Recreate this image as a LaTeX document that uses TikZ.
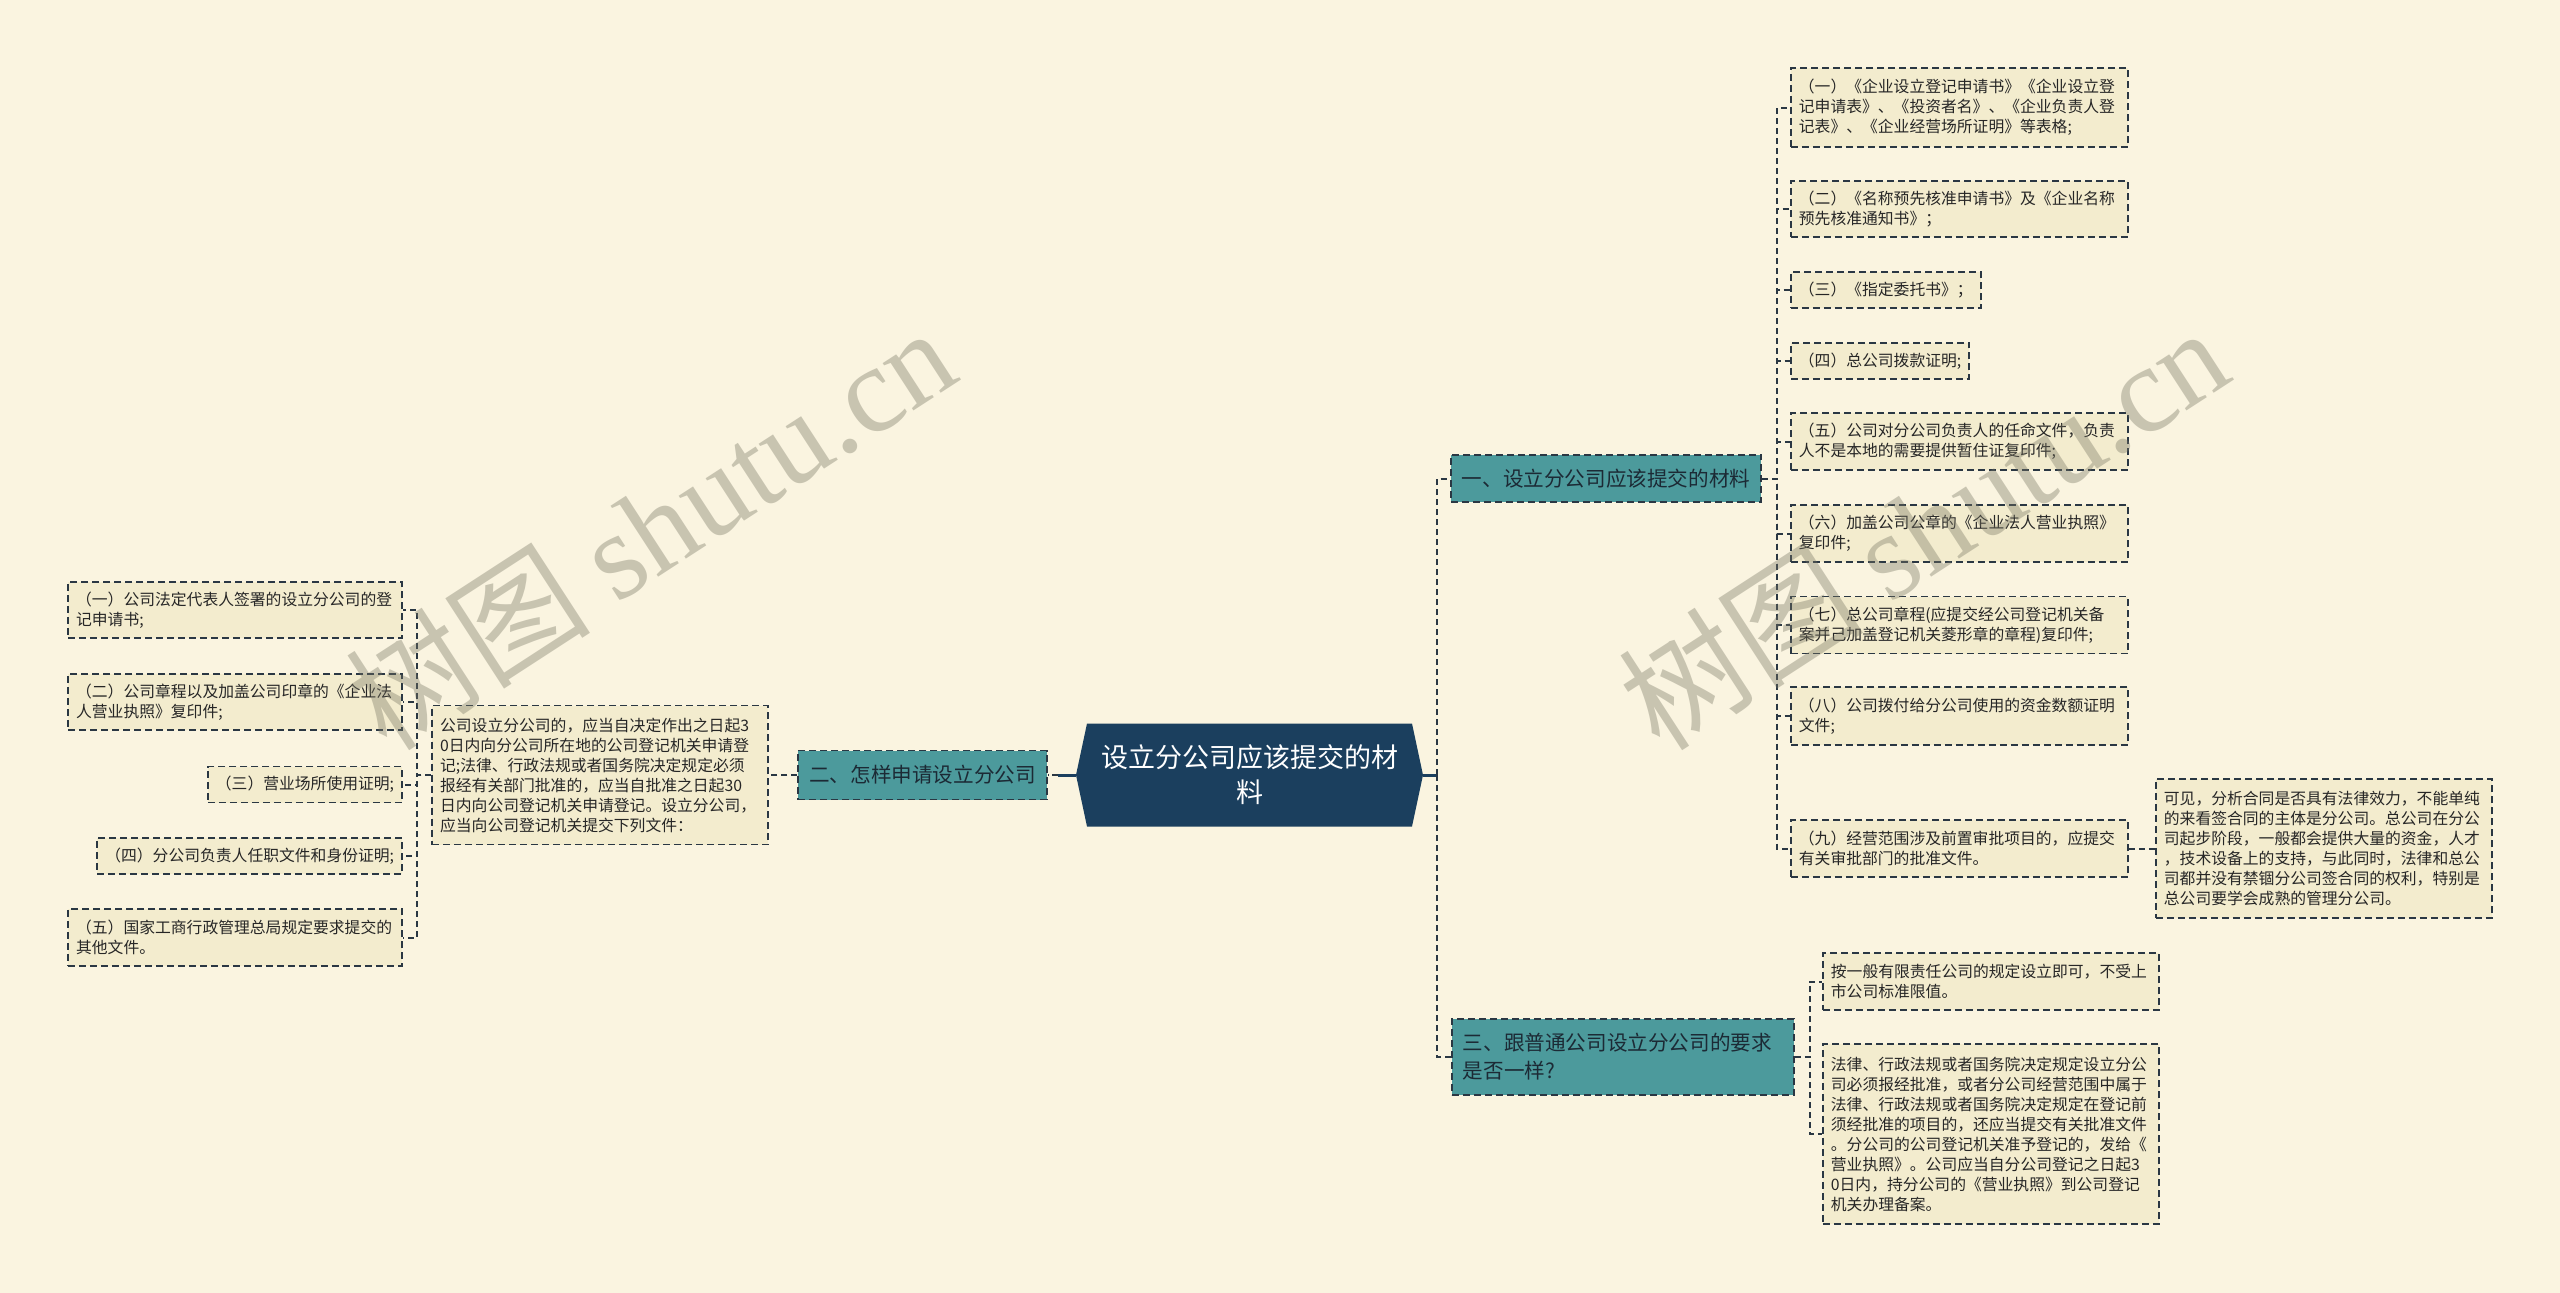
\documentclass[tikz,border=0pt]{standalone}
\usepackage{fontspec}
\setmainfont{Noto Sans CJK SC}
\newfontfamily\wmlatin{Liberation Serif}
\newfontfamily\wmcjk{Noto Sans CJK SC}
\usetikzlibrary{calc}
\definecolor{bgC}{HTML}{FAF4E0}
\definecolor{leafC}{HTML}{F3ECCE}
\definecolor{lineC}{HTML}{2A3743}
\definecolor{tealC}{HTML}{4C9A9C}
\definecolor{navyC}{HTML}{1B3F5E}
\definecolor{txtC}{HTML}{262626}
\definecolor{btxtC}{HTML}{1C2A35}
\definecolor{wmC}{RGB}{120,118,100}
\tikzset{
  leaf/.style={draw=lineC, line width=1.8pt, dash pattern=on 7pt off 4pt, fill=leafC, text=txtC,
    font=\fontsize{15.8pt}{20pt}\selectfont, align=left, inner xsep=8pt, inner ysep=4pt},
  branch/.style={draw=lineC, line width=1.8pt, dash pattern=on 7pt off 4pt, fill=tealC, text=btxtC,
    font=\fontsize{20.6pt}{28pt}\selectfont, align=left, inner xsep=11pt, inner ysep=4pt},
  conn/.style={draw=lineC, line width=2pt, dash pattern=on 6pt off 4pt},
  solidconn/.style={draw=navyC, line width=3pt},
  wmark/.style={text=wmC, opacity=0.38, rotate=33, inner sep=0pt}
}
\begin{document}
\begin{tikzpicture}[x=1pt,y=-1pt]
\fill[bgC] (0,0) rectangle (2560,1293);
\useasboundingbox (0,0) rectangle (2560,1293);

% centre hexagon
\coordinate (cc) at (1249.5,775);
\fill[navyC] ($(cc)+(-173.5,0)$) -- ($(cc)+(-162.5,-51.5)$) -- ($(cc)+(162.5,-51.5)$)
  -- ($(cc)+(173.5,0)$) -- ($(cc)+(162.5,51.5)$) -- ($(cc)+(-162.5,51.5)$) -- cycle;
\node[minimum width=347pt, minimum height=103pt, inner sep=0pt, text=white, align=center,
  font=\fontsize{27pt}{35pt}\selectfont] (center) at (cc) {设立分公司应该提交的材\\料};

% branches
\node[branch, minimum height=47pt] (B1) at (1606,478.5) {一、设立分公司应该提交的材料};
\node[branch, minimum height=49pt] (B2) at (922.5,775) {二、怎样申请设立分公司};
\node[branch, anchor=west, text width=320pt, minimum height=76pt] (B3) at (1451,1057) {三、跟普通公司设立分公司的要求\\是否一样?};

% branch 2 description and children
\node[leaf, anchor=east, text width=320pt, minimum height=139pt] (D) at (769,775) {公司设立分公司的，应当自决定作出之日起3\\0日内向分公司所在地的公司登记机关申请登\\记;法律、行政法规或者国务院决定规定必须\\报经有关部门批准的，应当自批准之日起30\\日内向公司登记机关申请登记。设立分公司，\\应当向公司登记机关提交下列文件：};

\node[leaf, anchor=east, text width=318pt, minimum height=56pt] (L1) at (403,610) {（一）公司法定代表人签署的设立分公司的登\\记申请书;};
\node[leaf, anchor=east, text width=318pt, minimum height=56pt] (L2) at (403,702) {（二）公司章程以及加盖公司印章的《企业法\\人营业执照》复印件;};
\node[leaf, anchor=east, minimum height=36pt] (L3) at (403,784.5) {（三）营业场所使用证明;};
\node[leaf, anchor=east, minimum height=36pt] (L4) at (403,856) {（四）分公司负责人任职文件和身份证明;};
\node[leaf, anchor=east, text width=318pt, minimum height=57pt] (L5) at (403,937.5) {（五）国家工商行政管理总局规定要求提交的\\其他文件。};

% branch 1 children
\node[leaf, anchor=west, text width=321pt, minimum height=79pt] (R1) at (1790,107.5) {（一）《企业设立登记申请书》《企业设立登\\记申请表》、《投资者名》、《企业负责人登\\记表》、《企业经营场所证明》等表格;};
\node[leaf, anchor=west, text width=321pt, minimum height=56pt] (R2) at (1790,209) {（二）《名称预先核准申请书》及《企业名称\\预先核准通知书》；};
\node[leaf, anchor=west, minimum height=36pt] (R3) at (1790,290) {（三）《指定委托书》；};
\node[leaf, anchor=west, minimum height=36pt] (R4) at (1790,361) {（四）总公司拨款证明;};
\node[leaf, anchor=west, text width=321pt, minimum height=57pt] (R5) at (1790,441.5) {（五）公司对分公司负责人的任命文件，负责\\人不是本地的需要提供暂住证复印件;};
\node[leaf, anchor=west, text width=321pt, minimum height=57pt] (R6) at (1790,533.5) {（六）加盖公司公章的《企业法人营业执照》\\复印件;};
\node[leaf, anchor=west, text width=321pt, minimum height=57pt] (R7) at (1790,625) {（七）总公司章程(应提交经公司登记机关备\\案并己加盖登记机关菱形章的章程)复印件;};
\node[leaf, anchor=west, text width=321pt, minimum height=58pt] (R8) at (1790,716) {（八）公司拨付给分公司使用的资金数额证明\\文件;};
\node[leaf, anchor=west, text width=321pt, minimum height=57pt] (R9) at (1790,848.5) {（九）经营范围涉及前置审批项目的，应提交\\有关审批部门的批准文件。};
\node[leaf, anchor=west, text width=320pt, minimum height=139pt] (R9c) at (2155,848.5) {可见，分析合同是否具有法律效力，不能单纯\\的来看签合同的主体是分公司。总公司在分公\\司起步阶段，一般都会提供大量的资金，人才\\，技术设备上的支持，与此同时，法律和总公\\司都并没有禁锢分公司签合同的权利，特别是\\总公司要学会成熟的管理分公司。};

% branch 3 children
\node[leaf, anchor=west, text width=320pt, minimum height=57pt] (T1) at (1822,981.5) {按一般有限责任公司的规定设立即可，不受上\\市公司标准限值。};
\node[leaf, anchor=west, text width=320pt, minimum height=180pt] (T2) at (1822,1134) {法律、行政法规或者国务院决定规定设立分公\\司必须报经批准，或者分公司经营范围中属于\\法律、行政法规或者国务院决定规定在登记前\\须经批准的项目的，还应当提交有关批准文件\\。分公司的公司登记机关准予登记的，发给《\\营业执照》。公司应当自分公司登记之日起3\\0日内，持分公司的《营业执照》到公司登记\\机关办理备案。};

% connectors
\draw[solidconn] (center.west) -- ++(-18,0) coordinate (cwl);
\draw[conn] (cwl) -- (B2.east);
\draw[conn] (B2.west) -- (D.east);
\foreach \n in {L1,L2,L3,L4,L5} \draw[conn] (D.west) -- ++(-14,0) |- (\n.east);
\draw[solidconn] (center.east) -- ++(14,0) coordinate (cer);
\draw[conn] (cer) |- (B1.west);
\draw[conn] (cer) |- (B3.west);
\foreach \n in {R1,R2,R3,R4,R5,R6,R7,R8,R9} \draw[conn] (B1.east) -- ++(15,0) |- (\n.west);
\foreach \n in {T1,T2} \draw[conn] (B3.east) -- ++(15,0) |- (\n.west);
\draw[conn] (R9.east) -- (R9c.west);

% watermarks
\node[wmark] (wm1) at (650,527) {\fontsize{123pt}{123pt}\selectfont\wmcjk 树图 \wmlatin shutu.cn};
\node[wmark] (wm2) at (1923,527) {\fontsize{123pt}{123pt}\selectfont\wmcjk 树图 \wmlatin shutu.cn};
\end{tikzpicture}
\end{document}
